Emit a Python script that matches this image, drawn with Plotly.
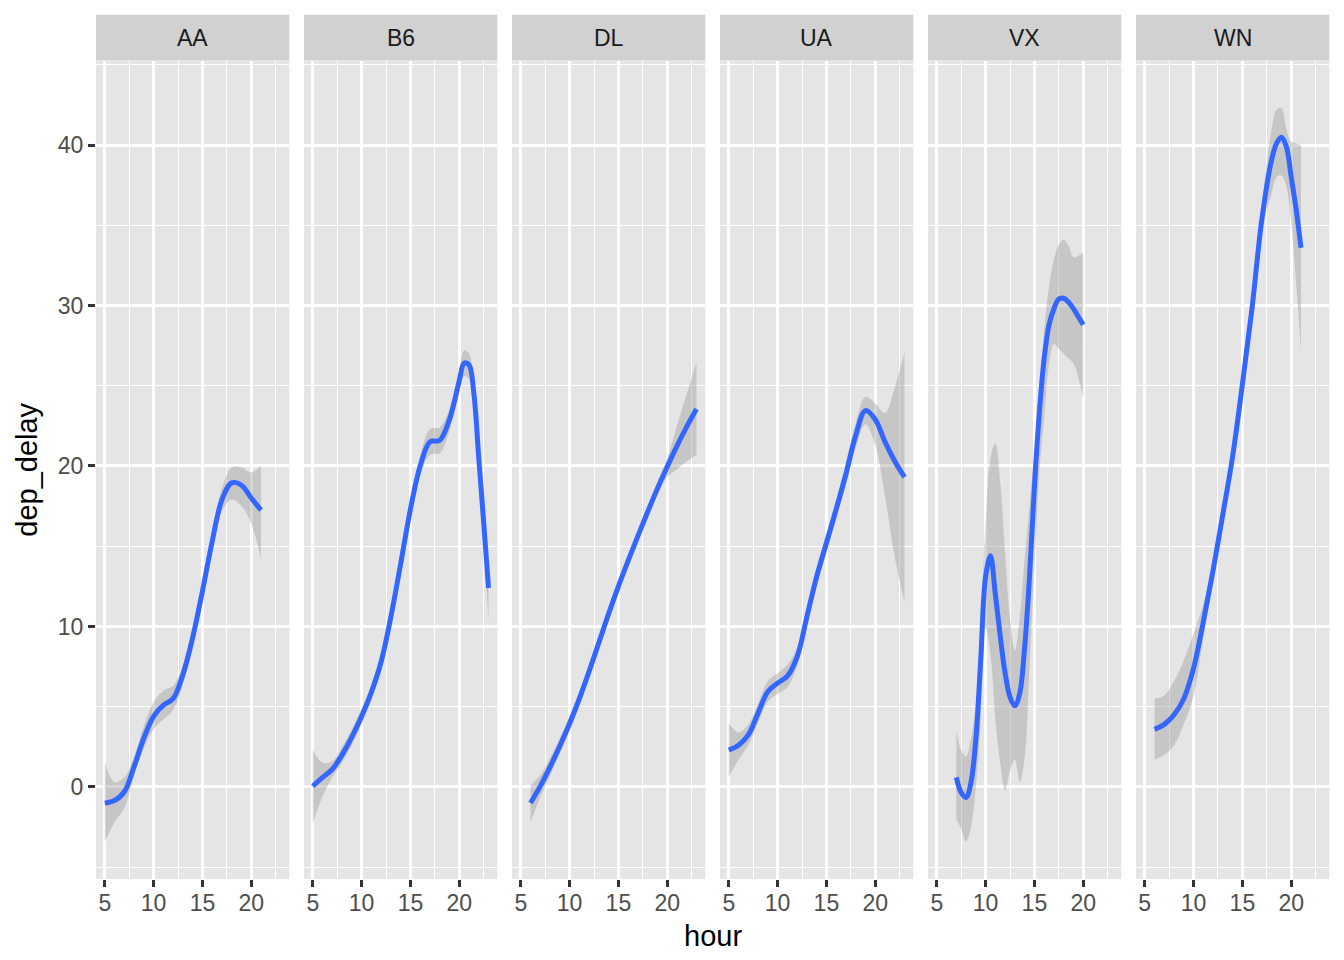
import plotly.graph_objects as go

CARRIERS = ["AA", "B6", "DL", "UA", "VX", "WN"]

AA_HOUR = [5, 6, 7, 8, 9, 10, 11, 12, 13, 14, 15, 16, 17, 18, 19, 20, 21]
AA_FIT = [-1.0, -0.85, -0.3, 1.26, 3.05, 4.4, 5.1, 5.5, 7.0, 9.3, 12.2, 15.3, 17.9, 18.95, 18.8, 18.0, 17.25]
AA_HI = [1.5, 0.3, 0.6, 1.9, 3.8, 5.3, 6.0, 6.3, 7.6, 9.9, 12.7, 15.8, 18.6, 19.9, 19.9, 19.6, 20.0]
AA_LO = [-3.4, -2.2, -1.3, 0.7, 2.4, 3.6, 4.2, 4.8, 6.4, 8.7, 11.7, 14.8, 17.2, 17.9, 17.5, 16.4, 14.2]

B6_HOUR = [5, 6, 7, 8, 9, 10, 11, 12, 13, 14, 15, 16, 17, 18, 19, 20, 20.5, 21, 21.5, 22, 22.5, 23]
B6_FIT = [0.05, 0.6, 1.1, 2.0, 3.1, 4.4, 5.9, 7.8, 10.6, 13.9, 17.3, 20.0, 21.5, 21.6, 22.9, 25.3,
          26.4, 26.3, 24.5, 20.5, 16.5, 12.4]
B6_HI = [2.3, 1.5, 1.6, 2.5, 3.6, 4.9, 6.4, 8.3, 11.1, 14.4, 17.8, 20.6, 22.3, 22.4, 23.6, 26.0,
         27.2, 27.0, 25.2, 21.5, 17.8, 14.0]
B6_LO = [-2.25, -0.6, 0.6, 1.5, 2.6, 3.9, 5.4, 7.3, 10.1, 13.4, 16.8, 19.4, 20.7, 20.8, 22.2, 24.6,
         25.6, 25.4, 23.6, 19.3, 15.0, 10.4]

DL_HOUR = [6, 7, 8, 9, 10, 11, 12, 13, 14, 15, 16, 17, 18, 19, 20, 21, 22, 23]
DL_FIT = [-1.0, 0.05, 1.25, 2.55, 3.95, 5.5, 7.2, 9.0, 10.8, 12.5, 14.1, 15.65, 17.15, 18.6, 19.95, 21.25, 22.45, 23.55]
DL_HI = [0.1, 0.75, 1.8, 3.05, 4.4, 5.95, 7.6, 9.4, 11.2, 12.9, 14.5, 16.0, 17.5, 19.0, 20.5, 22.5, 24.5, 26.5]
DL_LO = [-2.2, -0.65, 0.7, 2.05, 3.5, 5.05, 6.8, 8.6, 10.4, 12.1, 13.7, 15.3, 16.8, 18.2, 19.3, 19.8, 20.3, 20.7]

UA_HOUR = [5, 6, 7, 8, 9, 10, 11, 12, 13, 14, 15, 16, 17, 18, 19, 20, 21, 22, 23]
UA_FIT = [2.3, 2.6, 3.24, 4.6, 5.94, 6.47, 6.9, 8.1, 10.6, 13.1, 15.2, 17.3, 19.5, 21.9, 23.45, 22.9, 21.5, 20.3, 19.3]
UA_HI = [3.97, 3.4, 3.9, 5.2, 6.6, 7.1, 7.6, 8.7, 11.2, 13.7, 15.8, 17.9, 20.2, 22.7, 24.3, 23.9, 23.3, 24.9, 27.1]
UA_LO = [0.64, 1.7, 2.6, 4.0, 5.3, 5.8, 6.2, 7.5, 10.0, 12.5, 14.6, 16.7, 18.8, 21.1, 22.6, 21.3, 18.1, 14.3, 11.5]

VX_HOUR = [7, 7.5, 8, 8.5, 9, 9.5, 10, 10.5, 11, 11.5, 12, 12.5, 13, 13.5, 14, 14.5, 15, 15.5, 16,
           16.5, 17, 17.5, 18, 18.5, 19, 19.5, 20]
VX_FIT = [0.6, -0.35, -0.66, 0.27, 2.95, 7.9, 13.1, 14.4, 12.0, 9.4, 7.1, 5.6, 5.06, 5.85, 8.7, 13.1,
          18.7, 23.3, 26.7, 28.8, 29.8, 30.4, 30.45, 30.2, 29.8, 29.3, 28.8]
VX_HI = [3.5, 2.3, 1.9, 3.0, 5.2, 10.2, 16.4, 20.5, 21.4, 19.0, 14.5, 10.5, 8.5, 10.6, 14.2, 17.5,
         21.0, 24.5, 28.5, 31.2, 32.9, 33.8, 34.1, 33.7, 33.0, 33.1, 33.3]
VX_LO = [-2.0, -2.6, -3.4, -2.5, 0.0, 4.0, 9.9, 8.3, 4.2, 1.5, -0.2, 1.0, 1.7, 0.3, 1.8, 7.5,
         13.5, 19.5, 23.0, 26.3, 27.6, 27.3, 27.0, 26.7, 26.4, 25.5, 24.2]

WN_HOUR = [6, 7, 8, 9, 10, 11, 12, 13, 14, 15, 16, 17, 18, 18.5, 19, 19.5, 20, 20.5, 21]
WN_FIT = [3.59, 3.9, 4.5, 5.5, 7.4, 10.3, 13.5, 17.0, 20.6, 25.1, 29.9, 35.4, 39.1, 40.1, 40.48,
          39.9, 38.0, 36.0, 33.6]
WN_HI = [5.5, 5.7, 6.6, 7.9, 9.6, 11.4, 14.1, 17.6, 21.2, 25.7, 30.5, 36.2, 41.0, 42.2, 42.3,
         41.0, 40.2, 40.1, 40.0]
WN_LO = [1.7, 2.0, 2.6, 3.9, 5.7, 9.3, 12.9, 16.4, 20.0, 24.5, 29.3, 34.8, 37.0, 38.0, 38.1,
         37.4, 35.1, 31.4, 27.2]

X_TICKS = [5, 10, 15, 20]
X_MINOR = [7.5, 12.5, 17.5, 22.5]
Y_TICKS = [0, 10, 20, 30, 40]
Y_MINOR = [-5, 5, 15, 25, 35, 45]

series = {
    "AA": (AA_HOUR, AA_FIT, AA_HI, AA_LO),
    "B6": (B6_HOUR, B6_FIT, B6_HI, B6_LO),
    "DL": (DL_HOUR, DL_FIT, DL_HI, DL_LO),
    "UA": (UA_HOUR, UA_FIT, UA_HI, UA_LO),
    "VX": (VX_HOUR, VX_FIT, VX_HI, VX_LO),
    "WN": (WN_HOUR, WN_FIT, WN_HI, WN_LO),
}

W, H = 1344, 960
FONT = "Liberation Sans, Arial, Helvetica, sans-serif"
# panel geometry in pixels (ggplot facet layout)
left, right = 96.0, 1329.3
gap = 14.67
pw = (right - left - 5 * gap) / 6
strip_top, panel_top, panel_bot = 14.7, 60.6, 878.9

fig = go.Figure()
layout_axes = {}
for i, c in enumerate(CARRIERS):
    hr, fit, hi, lo = series[c]
    n = "" if i == 0 else str(i + 1)
    xa, ya = "x" + n, "y" + n
    fig.add_trace(go.Scatter(x=hr, y=lo, xaxis=xa, yaxis=ya, mode="lines",
                             line=dict(width=0, shape="spline", smoothing=1.0),
                             hoverinfo="skip", showlegend=False))
    fig.add_trace(go.Scatter(x=hr, y=hi, xaxis=xa, yaxis=ya, mode="lines",
                             line=dict(width=0, shape="spline", smoothing=1.0),
                             fill="tonexty", fillcolor="rgba(153,153,153,0.4)",
                             hoverinfo="skip", showlegend=False))
    fig.add_trace(go.Scatter(x=hr, y=fit, xaxis=xa, yaxis=ya, mode="lines",
                             line=dict(color="#3366FF", width=5, shape="spline", smoothing=1.0),
                             showlegend=False))

    x0 = left + i * (pw + gap)
    x1 = x0 + pw
    layout_axes["xaxis" + n] = dict(
        domain=[x0 / W, x1 / W], anchor=ya, range=[4.1, 23.9],
        tickvals=X_TICKS, ticks="outside", ticklen=7, tickwidth=2.6, tickcolor="#333333",
        tickfont=dict(size=23, color="#4D4D4D", family=FONT), ticklabelstandoff=-4,
        showgrid=True, gridcolor="white", gridwidth=2.8, zeroline=False, showline=False,
        minor=dict(tickvals=X_MINOR, showgrid=True, gridcolor="white", gridwidth=1.4, ticks=""),
    )
    layout_axes["yaxis" + n] = dict(
        domain=[1 - panel_bot / H, 1 - panel_top / H], anchor=xa, range=[-5.73, 45.26],
        tickvals=Y_TICKS, ticks="outside" if i == 0 else "", ticklen=7, tickwidth=2.6,
        tickcolor="#333333", showticklabels=(i == 0),
        tickfont=dict(size=23, color="#4D4D4D", family=FONT),
        showgrid=True, gridcolor="white", gridwidth=2.8, zeroline=False, showline=False,
        minor=dict(tickvals=Y_MINOR, showgrid=True, gridcolor="white", gridwidth=1.4, ticks=""),
    )
    # facet strip
    fig.add_shape(type="rect", xref="paper", yref="paper",
                  x0=x0 / W, x1=x1 / W, y0=1 - panel_top / H, y1=1 - strip_top / H,
                  fillcolor="#D1D1D1", line=dict(width=0), layer="below")
    fig.add_annotation(text=c, xref="paper", yref="paper",
                       x=(x0 + x1) / 2 / W, y=1 - (strip_top + panel_top) / 2 / H,
                       showarrow=False, xanchor="center", yanchor="middle",
                       font=dict(size=23, color="#1A1A1A", family=FONT))

fig.add_annotation(text="hour", xref="paper", yref="paper",
                   x=(left + right) / 2 / W, y=1 - 936 / H, showarrow=False,
                   xanchor="center", yanchor="middle", font=dict(size=29, color="black", family=FONT))
fig.add_annotation(text="dep_delay", xref="paper", yref="paper",
                   x=27 / W, y=1 - (panel_top + panel_bot) / 2 / H, showarrow=False, textangle=-90,
                   xanchor="center", yanchor="middle", font=dict(size=29, color="black", family=FONT))

fig.update_layout(
    width=W, height=H, margin=dict(l=0, r=0, t=0, b=0),
    paper_bgcolor="white", plot_bgcolor="#E5E5E5",
    font=dict(family=FONT), showlegend=False,
    **layout_axes,
)

# the page's default body margin would push the figure 8px off
fig.write_html("out.html", config={"displayModeBar": False},
               post_script="document.body.style.margin='0';")
